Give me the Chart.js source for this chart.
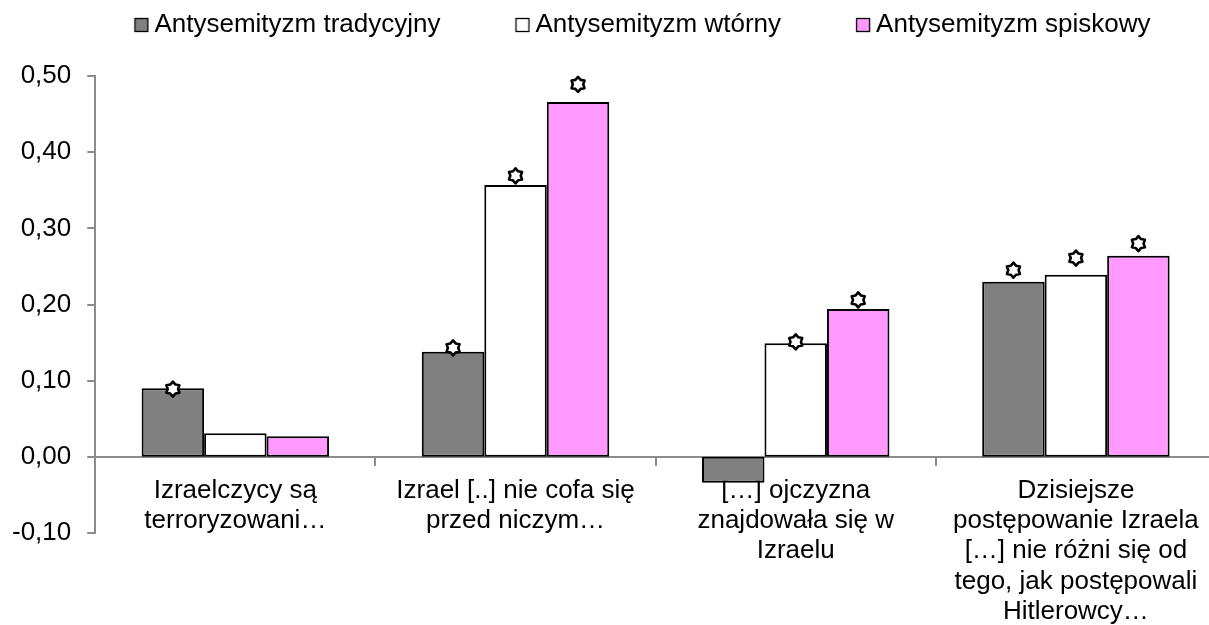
<!DOCTYPE html>
<html>
<head>
<meta charset="utf-8">
<script src="https://cdn.jsdelivr.net/npm/chart.js@4/dist/chart.umd.min.js"></script>
<style>
  html, body { margin: 0; padding: 0; background: #fff; overflow: hidden; }
  #wrap { width: 1230px; height: 625px; }
</style>
</head>
<body>
<div id="wrap"><canvas id="chart"></canvas></div>
<script>
// kategorie (etykiety osi X, w kilku liniach)
const categories = [
  ['Izraelczycy są', 'terroryzowani…'],
  ['Izrael [..] nie cofa się', 'przed niczym…'],
  ['[…] ojczyzna', 'znajdowała się w', 'Izraelu'],
  ['Dzisiejsze', 'postępowanie Izraela', '[…] nie różni się od', 'tego, jak postępowali', 'Hitlerowcy…']
];

const seriesNames = ['Antysemityzm tradycyjny', 'Antysemityzm wtórny', 'Antysemityzm spiskowy'];
const seriesColors = ['#808080', '#ffffff', '#ff99ff'];

const tradycyjny = [0.090, 0.138, -0.034, 0.230];
const wtorny = [0.031, 0.357, 0.149, 0.239];
const spiskowy = [0.027, 0.466, 0.194, 0.264];

// pozycje gwiazdek (istotność) nad słupkami, null = brak
const starsTradycyjny = [0.089, 0.143, null, 0.245];
const starsWtorny = [null, 0.369, 0.151, 0.261];
const starsSpiskowy = [null, 0.489, 0.206, 0.280];

const yMin = -0.1, yMax = 0.5, yStep = 0.1;

const FONT = 'Liberation Sans, Arial, sans-serif';

// kwadraciki legendy rysowane jako obrazki (z wolnym miejscem po lewej)
function makeBox(color) {
  const c = document.createElement('canvas');
  c.width = 88; c.height = 16;
  const g = c.getContext('2d');
  g.fillStyle = color;
  g.fillRect(73, 1, 14, 14);
  g.strokeStyle = '#000';
  g.lineWidth = 1.3;
  g.strokeRect(73.5, 1.5, 13, 13);
  return c;
}
const legendBoxes = seriesColors.map(makeBox);

function drawStar(ctx, x, y) {
  const rOut = 7.5, rIn = 5.2;
  ctx.save();
  ctx.beginPath();
  for (let k = 0; k < 12; k++) {
    const r = k % 2 === 0 ? rOut : rIn;
    const a = -Math.PI / 2 + k * Math.PI / 6;
    const px = x + r * Math.cos(a), py = y + r * Math.sin(a);
    if (k === 0) ctx.moveTo(px, py); else ctx.lineTo(px, py);
  }
  ctx.closePath();
  ctx.fillStyle = '#fff';
  ctx.fill();
  ctx.lineWidth = 2.6;
  ctx.lineJoin = 'round';
  ctx.strokeStyle = '#000';
  ctx.stroke();
  ctx.restore();
}

const starSets = [starsTradycyjny, starsWtorny, starsSpiskowy];

const sigMarks = {
  id: 'sigMarks',
  afterDatasetsDraw(chart) {
    const yScale = chart.scales.y;
    starSets.forEach((vals, di) => {
      const meta = chart.getDatasetMeta(di);
      vals.forEach((v, i) => {
        if (v === null) return;
        drawStar(chart.ctx, meta.data[i].x, yScale.getPixelForValue(v));
      });
    });
  }
};

// odstęp pod legendą i lekkie przesunięcie w prawo
const legendGap = {
  id: 'legendGap',
  beforeInit(chart) {
    const fit = chart.legend.fit;
    chart.legend.fit = function () {
      fit.call(this);
      this.height += 28;
    };
  },
  afterLayout(chart) {
    chart.legend.left += 4;
    chart.legend.right += 4;
  }
};

const values = [tradycyjny, wtorny, spiskowy];

const ctx = document.getElementById('chart').getContext('2d');
const chart = new Chart(ctx, {
  type: 'bar',
  data: {
    labels: categories,
    datasets: values.map((v, i) => ({
      label: seriesNames[i],
      data: v,
      backgroundColor: seriesColors[i],
      borderColor: '#000',
      borderWidth: 2,
      borderSkipped: false,
      barPercentage: 1,
      categoryPercentage: 0.669
    }))
  },
  options: {
    responsive: true,
    maintainAspectRatio: false,
    animation: false,
    layout: { padding: { left: -4, right: 14, top: 2, bottom: 92 } },
    plugins: {
      tooltip: { enabled: false },
      legend: {
        position: 'top',
        labels: {
          usePointStyle: true,
          pointStyleWidth: 72,
          padding: 10,
          color: '#000',
          font: { family: FONT, size: 26 },
          generateLabels(chart) {
            const items = Chart.defaults.plugins.legend.labels.generateLabels(chart);
            items.forEach((it, i) => { it.pointStyle = legendBoxes[i]; });
            return items;
          }
        }
      }
    },
    scales: {
      x: {
        position: { y: 0 },
        offset: true,
        border: { color: '#8c8c8c', width: 2 },
        grid: { display: true, drawOnChartArea: false, drawTicks: true, tickLength: 8, color: '#8c8c8c', lineWidth: 2, offset: true },
        ticks: {
          color: '#000',
          padding: 11,
          maxRotation: 0,
          minRotation: 0,
          autoSkip: false,
          font: { family: FONT, size: 26, lineHeight: 1.16 }
        }
      },
      y: {
        min: yMin,
        max: yMax,
        border: { color: '#8c8c8c', width: 2 },
        grid: { display: true, drawOnChartArea: false, drawTicks: true, tickLength: 8, color: '#8c8c8c', lineWidth: 2 },
        ticks: {
          stepSize: yStep,
          color: '#000',
          padding: 16,
          font: { family: FONT, size: 26 },
          callback: (v) => {
            const n = Math.abs(v) < 1e-9 ? 0 : Number(v);
            return n.toFixed(2).replace('.', ',');
          }
        }
      }
    }
  },
  plugins: [sigMarks, legendGap]
});
</script>
</body>
</html>
